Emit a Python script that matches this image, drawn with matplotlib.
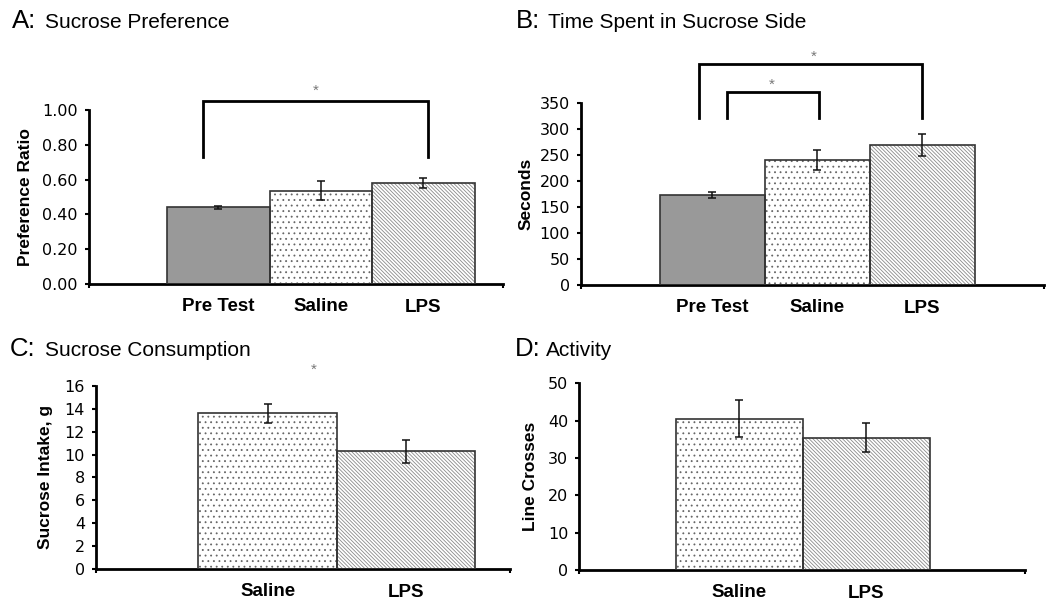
import matplotlib
matplotlib.use('Agg')
import matplotlib.pyplot as plt
import matplotlib.transforms as mtrans

plt.rcParams['font.family'] = ['Liberation Sans', 'DejaVu Sans']
plt.rcParams['hatch.linewidth'] = 0.6

# ---------------- data ----------------
ab_categories = ['Pre Test', 'Saline', 'LPS']
cd_categories = ['Saline', 'LPS']

pref_ratio = [0.44, 0.535, 0.58]
pref_err = [0.008, 0.055, 0.03]

time_sucrose = [173, 241, 270]
time_err = [6, 19, 21]

sucrose_intake = [13.6, 10.3]
intake_err = [0.8, 1.0]

line_crosses = [40.5, 35.4]
crosses_err = [5.0, 3.9]

# ---------------- styles ----------------
STYLE = {
    'Pre Test': dict(face='#999999', hatch=None, hcol='#999999'),
    'Saline': dict(face='white', hatch='...', hcol='#666666'),
    'LPS': dict(face='white', hatch='\\' * 9, hcol='#8a8a8a'),
}

W, H = 1046, 601
fig = plt.figure(figsize=(W / 100, H / 100), dpi=100)


def px_axes(left, right, top, bottom):
    return fig.add_axes([left / W, 1 - bottom / H, (right - left) / W, (bottom - top) / H])


def panel(ax, cats, vals, errs, xlim, ylim, yticks, fmt, ylabel, ylab_x):
    x = list(range(len(cats)))
    for xi, c, v in zip(x, cats, vals):
        st = STYLE[c]
        ax.bar(xi, v, width=1.0, color=st['face'], hatch=st['hatch'],
               edgecolor=st['hcol'], linewidth=0, zorder=2)
        ax.bar(xi, v, width=1.0, color='none', edgecolor='#333333',
               linewidth=1.2, zorder=3)
    ax.errorbar(x, vals, yerr=errs, fmt='none', ecolor='#111111',
                elinewidth=1.1, capsize=3.2, capthick=1.1, zorder=4)
    ax.set_xlim(*xlim)
    ax.set_ylim(*ylim)
    ax.set_yticks(yticks)
    ax.set_yticklabels([fmt.format(t) for t in yticks], fontsize=11.5,
                       family=['DejaVu Sans'])
    ax.set_xticks(x)
    ax.set_xticklabels(cats, fontsize=13.5, fontweight='bold')
    ax.set_xticks([xlim[0], xlim[1]], minor=True)
    ax.tick_params(axis='x', which='major', length=0, pad=10)
    ax.tick_params(axis='x', which='minor', length=3, width=1.5, direction='out')
    ax.tick_params(axis='y', which='major', length=3, width=1.5, direction='out', pad=5)
    for s in ['top', 'right']:
        ax.spines[s].set_visible(False)
    for s in ['left', 'bottom']:
        ax.spines[s].set_linewidth(2)
    ax.set_ylabel(ylabel, fontsize=12.5, fontweight='bold')
    ax.yaxis.set_label_coords(ylab_x, 0.5)
    ax.patch.set_alpha(0)
    # LPS label sits slightly lower in the reference
    for lab in ax.get_xticklabels():
        if lab.get_text() == 'LPS':
            lab.set_transform(lab.get_transform() +
                              mtrans.ScaledTranslation(0, -1.5 / 100, fig.dpi_scale_trans))


def bracket(ax, x0, x1, ybot, ytop):
    ax.plot([x0, x0, x1, x1], [ybot, ytop, ytop, ybot], color='black',
            lw=2, clip_on=False, zorder=5, solid_joinstyle='miter')


def star(ax, x, y):
    ax.text(x, y, '*', color='#777777', fontsize=11, ha='center', va='center',
            clip_on=False)


# Panel A
axA = px_axes(89, 503, 110, 284)
panel(axA, ab_categories, pref_ratio, pref_err, (-1.263, 2.776), (0, 1.0),
      [0, 0.2, 0.4, 0.6, 0.8, 1.0], '{:.2f}', 'Preference Ratio', -0.135)
bracket(axA, -0.15, 2.04, 0.73, 1.052)
star(axA, 0.95, 1.11)

# Panel B
axB = px_axes(581, 1044, 103.3, 285)
panel(axB, ab_categories, time_sucrose, time_err, (-1.248, 3.16), (0, 350),
      list(range(0, 351, 50)), '{:d}', 'Seconds', -0.102)
bracket(axB, -0.12, 2.0, 321, 426)
bracket(axB, 0.14, 1.02, 321, 372)
star(axB, 0.965, 440)
star(axB, 0.57, 386)

# Panel C
axC = px_axes(96, 510, 386, 568.7)
panel(axC, cd_categories, sucrose_intake, intake_err, (-1.24, 1.75), (0, 16),
      list(range(0, 17, 2)), '{:d}', 'Sucrose Intake, g', -0.105)
star(axC, 0.33, 17.4)

# Panel D
axD = px_axes(579.3, 1025, 383.3, 570)
panel(axD, cd_categories, line_crosses, crosses_err, (-1.26, 2.25), (0, 50),
      list(range(0, 51, 10)), '{:d}', 'Line Crosses', -0.093)


def title(xl, xt, ybase, letter, text):
    fig.text(xl / W, 1 - ybase / H, letter, fontsize=18.5, ha='left', va='baseline')
    fig.text(xt / W, 1 - ybase / H, text, fontsize=15, ha='left', va='baseline')


title(12, 45, 28, 'A:', 'Sucrose Preference')
title(516, 548, 28, 'B:', 'Time Spent in Sucrose Side')
title(10, 45, 356, 'C:', 'Sucrose Consumption')
title(515, 546, 356, 'D:', 'Activity')

fig.savefig('out.png', dpi=100)
